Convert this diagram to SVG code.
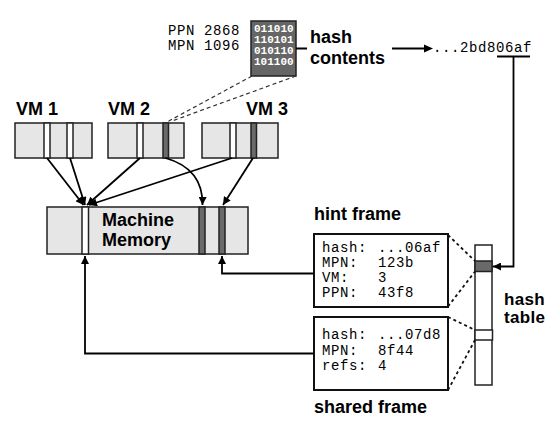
<svg xmlns="http://www.w3.org/2000/svg" width="558" height="425" viewBox="0 0 558 425">
<defs>
<marker id="ah" viewBox="0 0 10 10" refX="10" refY="5" markerWidth="9" markerHeight="8" markerUnits="userSpaceOnUse" orient="auto">
<path d="M0 0 L10 5 L0 10 Z" fill="#000"/>
</marker>
</defs>
<style>
.lbl{font-family:"Liberation Sans",Arial,Helvetica,sans-serif;font-weight:bold;font-size:18px;fill:#000}
.lbl2{font-family:"Liberation Sans",Arial,Helvetica,sans-serif;font-weight:bold;font-size:17px;letter-spacing:0.3px;fill:#000}
.mono{font-family:"Liberation Mono","Courier New",monospace;font-size:14px;letter-spacing:0.6px;fill:#000}
.bits{font-family:"Liberation Mono","Courier New",monospace;font-size:11px;font-weight:bold;fill:#fff}
.box{fill:#e6e6e6;stroke:#222;stroke-width:1.5}
.wslot{fill:#fff;stroke:#222;stroke-width:1.5}
.dslot{fill:#6a6a6a;stroke:#222;stroke-width:1.5}
.frame{fill:#fff;stroke:#111;stroke-width:2}
.conn{fill:none;stroke:#000;stroke-width:1.8}
.dash{fill:none;stroke:#333;stroke-width:1.2;stroke-dasharray:4 3}
.dot{fill:none;stroke:#111;stroke-width:1.8;stroke-dasharray:3 3}
</style>
<rect width="558" height="425" fill="#fff"/>

<g id="page-data">
<text class="mono" x="168" y="35">PPN 2868</text>
<text class="mono" x="168" y="50">MPN 1096</text>
<rect x="251" y="21" width="45" height="55" fill="#666" stroke="#222" stroke-width="1.5"/>
<text class="bits" x="254" y="32">011010</text>
<text class="bits" x="254" y="43">110101</text>
<text class="bits" x="254" y="54">010110</text>
<text class="bits" x="254" y="65">101100</text>
</g>

<g id="hash-contents-label">
<text class="lbl" x="310" y="43">hash</text>
<text class="lbl" x="310" y="64">contents</text>
</g>

<g id="hash-value">
<text class="mono" x="433" y="52">...2bd806af</text>
<line x1="497" y1="56.5" x2="530" y2="56.5" stroke="#000" stroke-width="1.8"/>
</g>

<g id="vm1">
<text class="lbl" x="16" y="115">VM 1</text>
<rect class="box" x="15" y="123" width="77" height="35"/>
<rect class="wslot" x="44" y="123" width="6" height="35"/>
<rect class="wslot" x="67" y="123" width="6" height="35"/>
</g>

<g id="vm2">
<text class="lbl" x="108" y="115">VM 2</text>
<rect class="box" x="108" y="123" width="76" height="35"/>
<rect class="wslot" x="137" y="123" width="6" height="35"/>
<rect class="dslot" x="163" y="123" width="5.5" height="35"/>
</g>

<g id="vm3">
<text class="lbl" x="246" y="115">VM 3</text>
<rect class="box" x="202" y="123" width="76" height="35"/>
<rect class="wslot" x="230" y="123" width="6" height="35"/>
<rect class="dslot" x="251" y="123" width="5.5" height="35"/>
</g>

<g id="machine-memory">
<rect class="box" x="47" y="207" width="201" height="47"/>
<rect class="wslot" x="82" y="207" width="6.5" height="47"/>
<rect class="dslot" x="199" y="207" width="6" height="47"/>
<rect class="dslot" x="219" y="207" width="6" height="47"/>
<text class="lbl" x="102" y="226">Machine</text>
<text class="lbl" x="102" y="246">Memory</text>
</g>

<g id="hint-frame">
<text class="lbl" x="314" y="220">hint frame</text>
<rect class="frame" x="314" y="234" width="134" height="73"/>
<text class="mono" x="322" y="251.5">hash:</text><text class="mono" x="378" y="251.5">...06af</text>
<text class="mono" x="322" y="266.5">MPN:</text><text class="mono" x="378" y="266.5">123b</text>
<text class="mono" x="322" y="281.5">VM:</text><text class="mono" x="378" y="281.5">3</text>
<text class="mono" x="322" y="296.5">PPN:</text><text class="mono" x="378" y="296.5">43f8</text>
</g>

<g id="shared-frame">
<rect class="frame" x="314" y="317" width="134" height="73"/>
<text class="mono" x="322" y="339">hash:</text><text class="mono" x="378" y="339">...07d8</text>
<text class="mono" x="322" y="354.5">MPN:</text><text class="mono" x="378" y="354.5">8f44</text>
<text class="mono" x="322" y="370">refs:</text><text class="mono" x="378" y="370">4</text>
<text class="lbl" x="314" y="413">shared frame</text>
</g>

<g id="hash-table">
<rect x="475" y="245" width="17" height="140" fill="#fff" stroke="#222" stroke-width="1.5"/>
<rect class="dslot" x="475" y="261" width="17" height="10.5"/>
<rect class="wslot" x="475" y="330" width="17.5" height="10"/>
<text class="lbl2" x="504" y="305">hash</text>
<text class="lbl2" x="504" y="322.5">table</text>
</g>

<g id="connectors">
<path class="dash" d="M252 76 L167 122"/>
<path class="dash" d="M296 76 L172 121"/>
<path class="conn" d="M296 48.5 H307 M392 48.5 H425"/>
<path d="M433 48.5 L424 44.5 L424 52.5 Z" fill="#000"/>
<path class="conn" d="M47 158 L83.5 205" marker-end="url(#ah)"/>
<path class="conn" d="M70 158 L85 205" marker-end="url(#ah)"/>
<path class="conn" d="M140 158 L87 205" marker-end="url(#ah)"/>
<path class="conn" d="M232 158 L89 205" marker-end="url(#ah)"/>
<path class="conn" d="M165.5 158 C190 165 203 180 202.5 205" marker-end="url(#ah)"/>
<path class="conn" d="M253 158 L223 205" marker-end="url(#ah)"/>
<path class="conn" d="M314 273.5 H222 V256" marker-end="url(#ah)"/>
<path class="conn" d="M314 353.5 H85 V256" marker-end="url(#ah)"/>
<path class="conn" d="M513.5 57 V266.5 H493" marker-end="url(#ah)"/>
<path class="dot" d="M448 235 L475 261"/>
<path class="dot" d="M448 306.5 L475 271.5"/>
<path class="dot" d="M448 317 L475 330"/>
<path class="dot" d="M448 390 L475 340"/>
</g>
</svg>
